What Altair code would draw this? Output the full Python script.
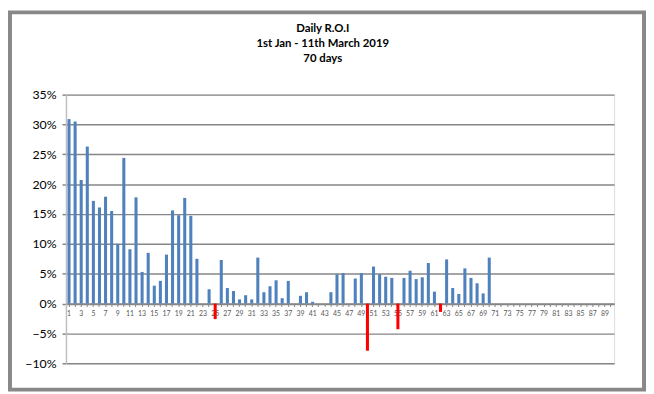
import altair as alt
import pandas as pd

days = list(range(1, 71))
roi_pct = [
    30.9, 30.5, 20.7, 26.3, 17.2, 16.1, 17.9, 15.5, 10.0, 24.4,
    9.1, 17.8, 5.3, 8.5, 3.0, 3.8, 8.2, 15.6, 14.8, 17.7,
    14.7, 7.5, 0.0, 2.4, -2.6, 7.3, 2.6, 2.1, 0.7, 1.4,
    0.7, 7.7, 1.9, 2.9, 3.9, 0.9, 3.8, 0.0, 1.3, 1.9,
    0.3, 0.0, 0.0, 1.9, 4.9, 5.1, 0.0, 4.2, 5.1, -7.9,
    6.2, 4.9, 4.5, 4.3, -4.3, 4.3, 5.5, 4.1, 4.4, 6.8,
    2.0, -1.4, 7.4, 2.6, 1.6, 5.9, 4.3, 3.4, 1.7, 7.7,
]
axis_days = list(range(1, 91))
y_ticks = [-0.10, -0.05, 0.0, 0.05, 0.10, 0.15, 0.20, 0.25, 0.30, 0.35]
title_lines = ["Daily R.O.I", "1st Jan - 11th March 2019", "70 days"]

df = pd.DataFrame({"day": days, "roi": [v / 100 for v in roi_pct]})

W, H = 555, 272
PL, PT = 58.7, 85.3
TOTAL_W, TOTAL_H = 646, 386
PR = TOTAL_W - PL - W
PB = TOTAL_H - PT - H

FONT = "Lato"

bars = alt.Chart(df).mark_bar().encode(
    x=alt.X(
        "day:O",
        scale=alt.Scale(domain=axis_days, paddingInner=0.5, paddingOuter=0.25),
        axis=alt.Axis(
            title=None,
            labelAngle=0,
            labelExpr="datum.value % 2 == 1 ? datum.value : ''",
            labelFontSize=7,
            labelColor="#595959",
            labelPadding=3,
            tickSize=3,
            tickColor="#868686",
            domainColor="#868686",
            domainWidth=1.5,
            offset=-(H * 10 / 45),
            grid=False,
        ),
    ),
    y=alt.Y(
        "roi:Q",
        scale=alt.Scale(domain=[-0.10, 0.35], nice=False),
        axis=alt.Axis(
            title=None,
            values=y_ticks,
            format=".0%",
            labelFontSize=12.5,
            labelColor="#000000",
            labelPadding=6,
            tickSize=4,
            tickColor="#868686",
            tickWidth=1.5,
            domainColor="#c0c0c0",
            domainWidth=1.5,
            grid=True,
            gridColor="#868686",
            gridWidth=1.5,
        ),
    ),
    color=alt.condition(alt.datum.roi < 0, alt.value("#FF0000"), alt.value("#4F81BD")),
)

frame = alt.Chart(pd.DataFrame({"f": [0]})).mark_rect(
    fill=None, stroke="#888888", strokeWidth=4
).encode(
    x=alt.value(-PL + 2),
    x2=alt.value(W + PR - 2),
    y=alt.value(-PT + 2),
    y2=alt.value(H + PB - 2),
)

title = alt.Chart(pd.DataFrame({"t": ["\n".join(title_lines)]})).mark_text(
    font=FONT,
    fontSize=11.5,
    fontWeight="bold",
    lineBreak="\n",
    lineHeight=15,
    align="center",
    baseline="alphabetic",
    color="#000000",
).encode(
    text="t:N",
    x=alt.value(260),
    y=alt.value(-63.3),
)

chart = alt.layer(bars, frame, title).properties(
    width=W,
    height=H,
    padding={"left": PL, "top": PT, "right": PR, "bottom": PB},
    autosize=alt.AutoSizeParams(type="none"),
).configure_view(stroke=None).configure(font=FONT)

chart.save("out.html", embed_options={"renderer": "svg", "actions": False})
